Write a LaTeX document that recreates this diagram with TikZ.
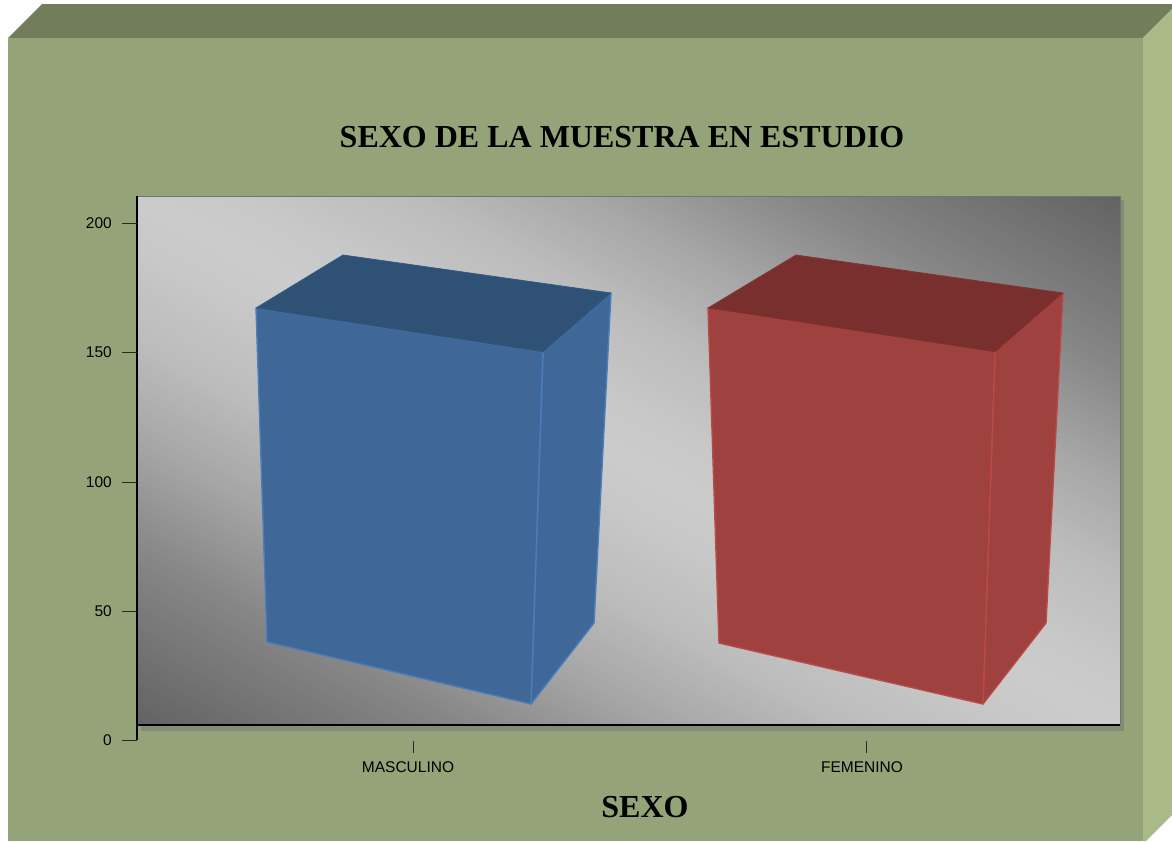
\documentclass[tikz,border=0pt]{standalone}
\usepackage{fontspec}
\setmainfont{Liberation Serif}
\newfontfamily\arialfont{Liberation Sans}
\definecolor{topface}{HTML}{717D5B}
\definecolor{frontface}{HTML}{94A478}
\definecolor{rightface}{HTML}{AABB89}
\definecolor{plotshadow}{HTML}{848C78}
\definecolor{bluemain}{HTML}{3F6899}
\definecolor{bluetop}{HTML}{2F5175}
\definecolor{blueedge}{HTML}{4A7DBA}
\definecolor{redmain}{HTML}{9E413F}
\definecolor{redtop}{HTML}{792F2E}
\definecolor{rededge}{HTML}{B94A47}
\begin{document}
\begin{tikzpicture}[x=1pt,y=-1pt,
  ticklbl/.style={font=\arialfont\fontsize{15.5}{18}\selectfont, text=black, inner sep=0pt},
  titletxt/.style={font=\bfseries\fontsize{32}{36}\selectfont, text=black, inner sep=0pt},
  axisline/.style={draw=black, line width=1.3pt},
  tickline/.style={draw=black!85, line width=1pt},
  barface/.style={line width=1.4pt, line join=round},
]
\useasboundingbox (0,0) rectangle (1172,841);
\fill[white] (0,0) rectangle (1172,841);
% 3D frame
\fill[topface] (8,38) -- (42,4) -- (1172,4) -- (1172,9) -- (1143,38) -- cycle;
\fill[rightface] (1143,38) -- (1172,9) -- (1172,815) -- (1146,841) -- (1143,841) -- cycle;
\fill[frontface] (8,38) rectangle (1143,841);
% plot area shadow
\fill[plotshadow] (141,200) rectangle (1124,731);
% plot area gradient
\begin{scope}
\clip (137,196) rectangle (1120,725);
\begin{scope}[shift={(137,725)}, x={(983pt,0pt)}, y={(0pt,529pt)}]
\foreach \i in {0,...,149}{
  \pgfmathsetmacro\sv{abs((\i+0.5)/75-1)}
  \pgfmathtruncatemacro\gv{\sv<0.1 ? 204-40*\sv : (\sv<0.28 ? 200-12*(\sv-0.1)/0.18 : (\sv<0.48 ? 188-24*(\sv-0.28)/0.2 : (\sv<0.67 ? 164-29*(\sv-0.48)/0.19 : 135-36*(\sv-0.67)/0.33)))}
  \definecolor{stripc}{RGB}{\gv,\gv,\gv}
  \fill[stripc] ({\i/75},0) -- (0,{\i/75}) -- (0,{\i/75+0.03}) -- ({\i/75+0.03},0) -- cycle;
}
\end{scope}
\end{scope}
\draw[black!55, line width=1pt] (137,196) -- (1120,196) -- (1120,725);
\draw[black, line width=1.5pt] (137,725) -- (1120,725);
% blue bar
\coordinate (bFLT) at (256,308);
\coordinate (bBLT) at (343,255);
\coordinate (bBRT) at (611,293);
\coordinate (bFRT) at (543,352);
\coordinate (bFLB) at (267,642);
\coordinate (bFRB) at (531,704);
\coordinate (bBRB) at (594,623);
\filldraw[barface, fill=bluemain, draw=blueedge] (bFRT) -- (bBRT) -- (bBRB) -- (bFRB) -- cycle;
\filldraw[barface, fill=bluemain, draw=blueedge] (bFLT) -- (bFRT) -- (bFRB) -- (bFLB) -- cycle;
\filldraw[fill=bluetop, draw=bluetop!80!blueedge, line width=0.8pt, line join=round] (bFLT) -- (bBLT) -- (bBRT) -- (bFRT) -- cycle;
% red bar
\coordinate (rFLT) at (708,308);
\coordinate (rBLT) at (796,255);
\coordinate (rBRT) at (1063,293);
\coordinate (rFRT) at (995,352);
\coordinate (rFLB) at (719,643);
\coordinate (rFRB) at (983,704);
\coordinate (rBRB) at (1046,623);
\filldraw[barface, fill=redmain, draw=rededge] (rFRT) -- (rBRT) -- (rBRB) -- (rFRB) -- cycle;
\filldraw[barface, fill=redmain, draw=rededge] (rFLT) -- (rFRT) -- (rFRB) -- (rFLB) -- cycle;
\filldraw[fill=redtop, draw=redtop!80!rededge, line width=0.8pt, line join=round] (rFLT) -- (rBLT) -- (rBRT) -- (rFRT) -- cycle;
% y axis
\coordinate (yTop) at (137,196);
\coordinate (yBot) at (137,740);
\draw[axisline] (yTop) -- (yBot);
\foreach \v/\yy in {0/740,50/611,100/482,150/352,200/223}{
  \coordinate (t\v) at (122,\yy);
  \coordinate (a\v) at (137,\yy);
  \draw[tickline] (t\v) -- (a\v);
  \node[ticklbl, anchor=east] (l\v) at (112,\yy) {\v};
}
% category ticks
\coordinate (cm1) at (413,741);
\coordinate (cm2) at (413,753);
\coordinate (cf1) at (866,741);
\coordinate (cf2) at (866,753);
\draw[tickline] (cm1) -- (cm2);
\draw[tickline] (cf1) -- (cf2);
\node[ticklbl, anchor=base] (masc) at (408,772) {MASCULINO};
\node[ticklbl, anchor=base] (fem) at (862,772) {FEMENINO};
% titles
\node[titletxt, anchor=base] (title) at (622,147) {SEXO DE LA MUESTRA EN ESTUDIO};
\node[titletxt, anchor=base] (xtitle) at (645,817) {SEXO};
\end{tikzpicture}
\end{document}
